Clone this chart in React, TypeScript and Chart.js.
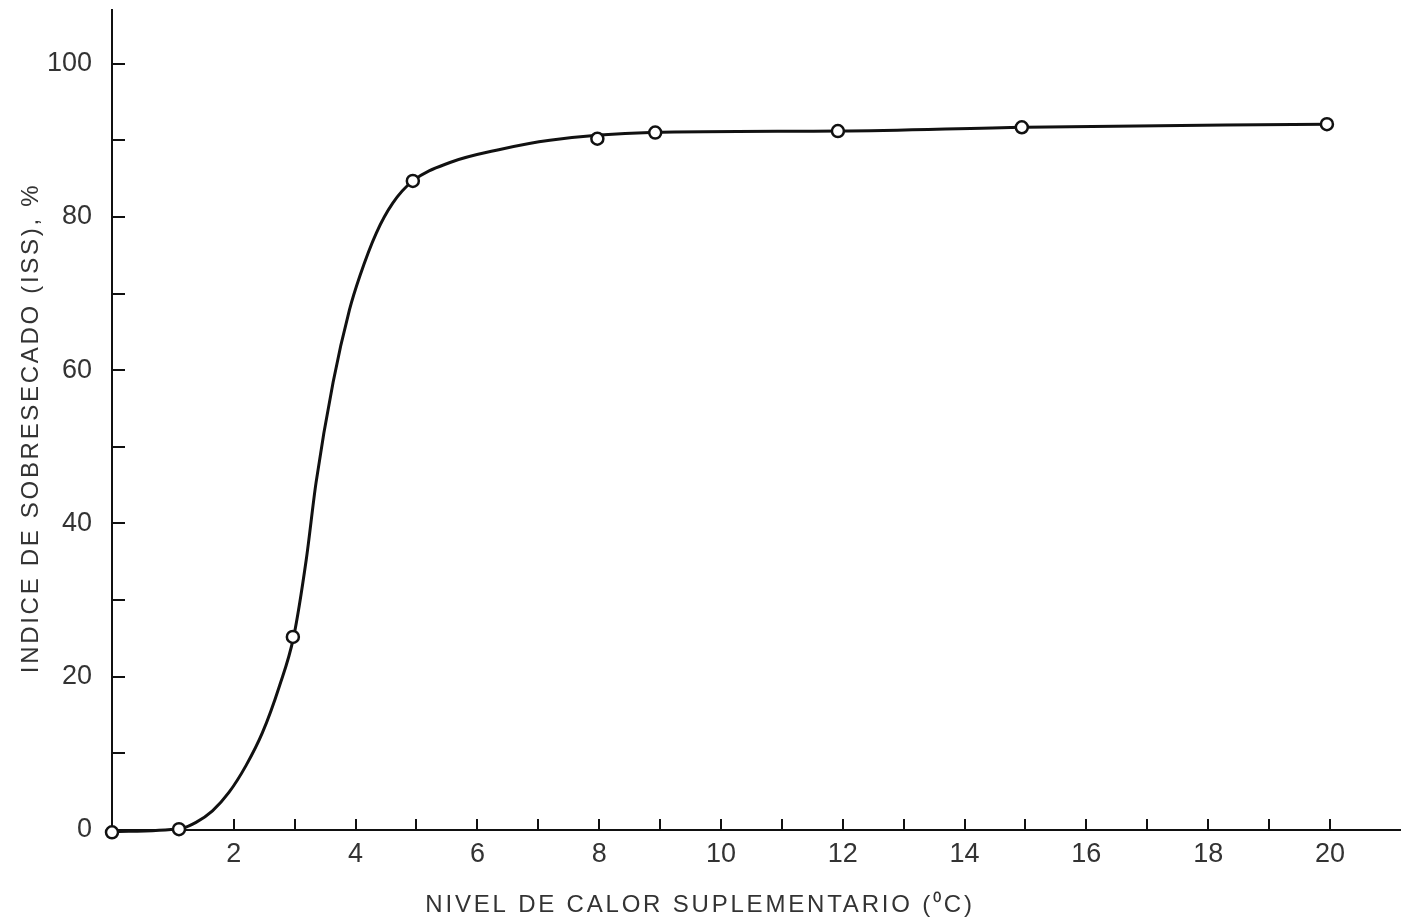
import React, { useEffect, useRef } from "react";
import { Chart, registerables } from "chart.js";

Chart.register(...registerables);

// Measured points: supplementary heat level (°C) vs. over-drying index (%)
const measuredX = [0, 1.1, 2.97, 4.94, 7.97, 8.92, 11.92, 14.94, 19.95];
const measuredY = [-0.3, 0.1, 25.2, 84.7, 90.2, 91.0, 91.2, 91.7, 92.1];

// Fitted response curve drawn through the measurements
const curveX = [0, 1.13, 1.38, 1.65, 1.92, 2.2, 2.47, 2.75, 2.98, 3.19, 3.35, 3.63, 3.9, 4.07, 4.34, 4.61, 4.94, 5.55, 6.37, 7.19, 8.84, 11.94, 15, 19.95];
const curveY = [-0.2, 0.2, 1.0, 2.5, 4.9, 8.4, 12.7, 18.8, 25.1, 35.3, 45.3, 58.4, 67.9, 72.3, 77.9, 81.8, 84.7, 87.1, 88.8, 90.0, 91.0, 91.2, 91.7, 92.1];

// Axis ticks and labels
const xTickMarks = [2, 3, 4, 5, 6, 7, 8, 9, 10, 11, 12, 13, 14, 15, 16, 17, 18, 19, 20];
const xTickLabels = [2, 4, 6, 8, 10, 12, 14, 16, 18, 20];
const yTickMarks = [10, 20, 30, 40, 50, 60, 70, 80, 90, 100];
const yTickLabels = [0, 20, 40, 60, 80, 100];

const xTitle = "NIVEL DE CALOR SUPLEMENTARIO (\u2070C)";
const yTitle = "INDICE DE SOBRESECADO (ISS), %";

const INK = "#111111";
const TEXT = "#333333";
const FONT = "'Liberation Sans', Arial, sans-serif";

const inwardTicks = {
  id: "inwardTicks",
  afterDatasetsDraw(chart: any) {
    const { ctx, chartArea, scales } = chart;
    const xs = scales.x;
    const ys = scales.y;
    ctx.save();
    ctx.strokeStyle = INK;
    ctx.lineWidth = 2;
    ctx.beginPath();
    for (const v of xTickMarks) {
      const px = Math.round(xs.getPixelForValue(v));
      ctx.moveTo(px, chartArea.bottom);
      ctx.lineTo(px, chartArea.bottom - 11);
    }
    for (const v of yTickMarks) {
      const py = Math.round(ys.getPixelForValue(v));
      ctx.moveTo(chartArea.left, py);
      ctx.lineTo(chartArea.left + 13, py);
    }
    ctx.stroke();

    // axis titles
    ctx.fillStyle = TEXT;
    ctx.font = `24px ${FONT}`;
    ctx.textAlign = "center";
    ctx.textBaseline = "middle";
    (ctx as any).letterSpacing = "2.8px";
    ctx.fillText(xTitle, 700, 905);
    ctx.translate(31, 428);
    ctx.rotate(-Math.PI / 2);
    (ctx as any).letterSpacing = "2.7px";
    ctx.fillText(yTitle, 0, 0);
    ctx.restore();
  },
};

export default function App() {
  const canvasRef = useRef<HTMLCanvasElement | null>(null);

  useEffect(() => {
    if (!canvasRef.current) return;
    const chart = new Chart(canvasRef.current, {
      type: "scatter",
      data: {
        datasets: [
          {
            label: "Medidas",
            data: measuredX.map((x, i) => ({ x, y: measuredY[i] })),
            showLine: false,
            pointRadius: 6,
            pointBorderWidth: 2.5,
            pointBorderColor: INK,
            pointBackgroundColor: "#ffffff",
            clip: false as any,
          },
          {
            label: "Curva",
            data: curveX.map((x, i) => ({ x, y: curveY[i] })),
            showLine: true,
            borderColor: INK,
            borderWidth: 3,
            pointRadius: 0,
            cubicInterpolationMode: "monotone",
            clip: false as any,
          },
        ],
      },
      options: {
        responsive: false,
        animation: false,
        devicePixelRatio: 1,
        layout: { padding: { top: 10, right: 10, left: 0, bottom: 0 } },
        plugins: {
          legend: { display: false },
          tooltip: { enabled: false },
        },
        scales: {
          x: {
            type: "linear",
            min: 0,
            max: 21.15,
            afterFit: (s: any) => {
              s.height = 88;
              s.paddingLeft = 0;
              s.paddingRight = 0;
            },
            border: { display: true, color: INK, width: 2 },
            grid: { display: false, drawTicks: false },
            ticks: {
              stepSize: 1,
              includeBounds: false,
              autoSkip: false,
              maxRotation: 0,
              padding: 8,
              color: TEXT,
              font: { family: FONT, size: 27 },
              callback: (v: any) => (xTickLabels.includes(Number(v)) ? String(v) : ""),
            },
          },
          y: {
            type: "linear",
            min: 0,
            max: 107,
            afterFit: (s: any) => {
              s.width = 112;
              s.paddingTop = 0;
              s.paddingBottom = 0;
            },
            border: { display: true, color: INK, width: 2 },
            grid: { display: false, drawTicks: false },
            ticks: {
              stepSize: 10,
              includeBounds: false,
              autoSkip: false,
              padding: 20,
              color: TEXT,
              font: { family: FONT, size: 27 },
              callback: (v: any) => (yTickLabels.includes(Number(v)) ? String(v) : ""),
            },
          },
        },
      },
      plugins: [inwardTicks],
    } as any);
    return () => chart.destroy();
  }, []);

  return (
    <div style={{ position: "fixed", left: 0, top: 0, width: 1410, height: 918, background: "#fff" }}>
      <canvas ref={canvasRef} width={1410} height={918} />
    </div>
  );
}
